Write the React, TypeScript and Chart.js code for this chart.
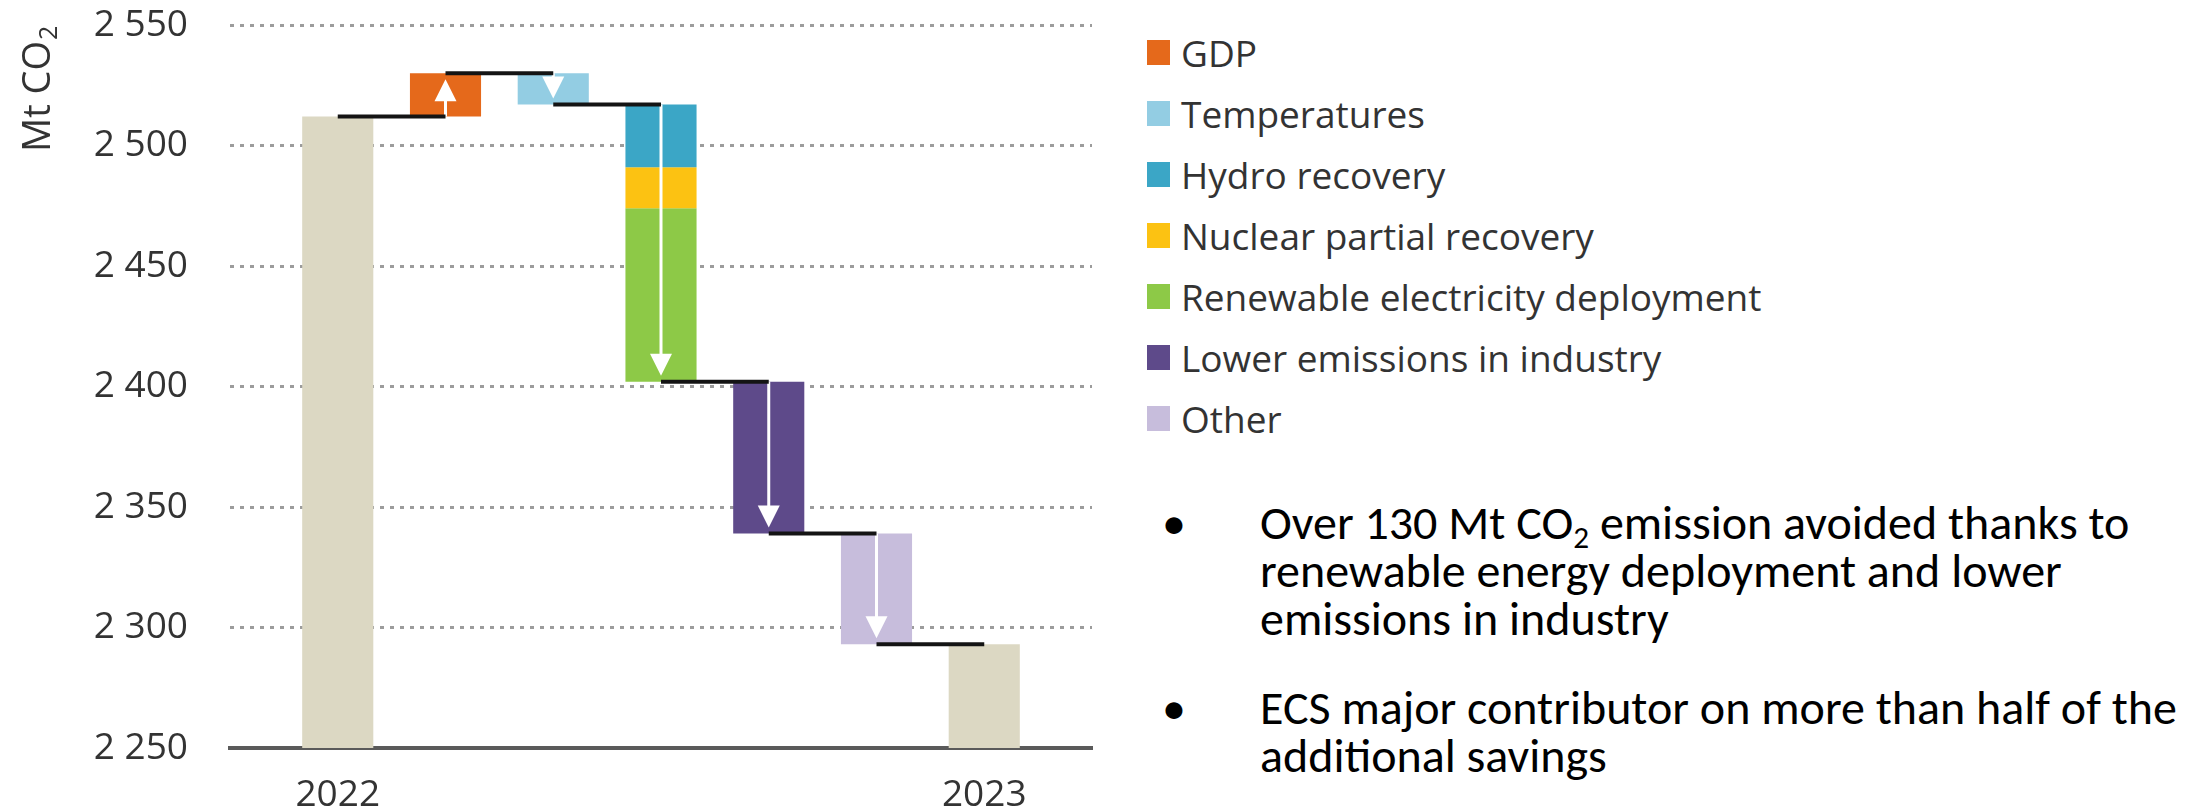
import React, { useEffect, useRef } from 'react';
import { Chart, registerables } from 'chart.js';

Chart.register(...registerables);

// ---------- data ----------
const categories = ['2022', 'GDP', 'Temperatures', 'Power sector', 'Industry', 'Other', '2023'];
const xTickLabels = ['2022', '', '', '', '', '', '2023'];
const totalCategoryIndex = [0, 6];
const totalValues = [2512, 2293];

const seriesNames = [
  'GDP',
  'Temperatures',
  'Hydro recovery',
  'Nuclear partial recovery',
  'Renewable electricity deployment',
  'Lower emissions in industry',
  'Other',
];
const seriesDeltas = [18, -13, -26, -17, -72, -63, -46];
const seriesCategoryIndex = [1, 2, 3, 3, 3, 4, 5];
const seriesColors = ['#E5691B', '#93CDE3', '#3BA6C6', '#FCC212', '#8DC947', '#5E4A8A', '#C7BDDC'];
const totalColor = '#DCD8C3';

const yTickValues = [2250, 2300, 2350, 2400, 2450, 2500, 2550];
const yTickLabels = ['2 250', '2 300', '2 350', '2 400', '2 450', '2 500', '2 550'];
const yTitleMain = 'Mt CO';
const yTitleSub = '2';

const bullets = [
  ['Over 130 Mt CO|2| emission avoided thanks to', 'renewable energy deployment and lower', 'emissions in industry'],
  ['ECS major contributor on more than half of the', 'additional savings'],
];

// ---------- derived ----------
const labels = ['', ...categories, ''];
const yMin = yTickValues[0];
const yMax = yTickValues[yTickValues.length - 1];

const levelAfter: number[] = new Array(categories.length).fill(0);
levelAfter[totalCategoryIndex[0]] = totalValues[0];
const seriesRanges: [number, number][] = [];
{
  let level = totalValues[0];
  seriesDeltas.forEach((d, i) => {
    const next = level + d;
    seriesRanges.push([Math.min(level, next), Math.max(level, next)]);
    level = next;
    levelAfter[seriesCategoryIndex[i]] = level;
  });
  levelAfter[totalCategoryIndex[1]] = totalValues[1];
}

const TEXT = '#333333';
const FONT = "'Open Sans', 'Noto Sans', sans-serif";

const decorPlugin = {
  id: 'waterfallDecor',
  afterDatasetsDraw(chart: any) {
    const { ctx } = chart;
    const xs = chart.scales.x;
    const ys = chart.scales.y;
    const px = (c: number) => xs.getPixelForValue(c + 1);
    ctx.save();
    // arrows
    for (let c = 1; c < categories.length - 1; c++) {
      const from = levelAfter[c - 1];
      const to = levelAfter[c];
      const x = px(c);
      const y0 = ys.getPixelForValue(from);
      const y1 = ys.getPixelForValue(to);
      const dir = y1 > y0 ? 1 : -1;
      const tip = y1 - dir * 6;
      const headLen = 22;
      const headHalf = 11;
      ctx.strokeStyle = '#ffffff';
      ctx.fillStyle = '#ffffff';
      ctx.lineWidth = 3;
      ctx.beginPath();
      ctx.moveTo(x, y0);
      ctx.lineTo(x, tip - dir * headLen + dir * 1);
      ctx.stroke();
      ctx.beginPath();
      ctx.moveTo(x, tip);
      ctx.lineTo(x - headHalf, tip - dir * headLen);
      ctx.lineTo(x + headHalf, tip - dir * headLen);
      ctx.closePath();
      ctx.fill();
    }
    // connectors
    ctx.strokeStyle = '#141414';
    ctx.lineWidth = 4;
    for (let c = 0; c < categories.length - 1; c++) {
      const y = ys.getPixelForValue(levelAfter[c]);
      ctx.beginPath();
      ctx.moveTo(px(c), y);
      ctx.lineTo(px(c + 1), y);
      ctx.stroke();
    }
    ctx.restore();
  },
  afterDraw(chart: any) {
    const { ctx } = chart;
    ctx.save();
    ctx.translate(50, 152);
    ctx.rotate(-Math.PI / 2);
    ctx.fillStyle = TEXT;
    ctx.textAlign = 'left';
    ctx.textBaseline = 'alphabetic';
    ctx.font = `38px ${FONT}`;
    ctx.fillText(yTitleMain, 0, 0);
    const w = ctx.measureText(yTitleMain).width;
    ctx.font = `25px ${FONT}`;
    ctx.fillText(yTitleSub, w + 1, 7);
    ctx.restore();
  },
};

export default function App() {
  const canvasRef = useRef<HTMLCanvasElement | null>(null);

  useEffect(() => {
    if (!canvasRef.current) return;
    const barOpts = { grouped: false, barPercentage: 0.66, categoryPercentage: 1, borderSkipped: false };
    const datasets: any[] = [];
    datasets.push({
      label: 'Total',
      data: labels.map((_, j) => {
        const k = totalCategoryIndex.indexOf(j - 1);
        return k >= 0 ? [yMin, totalValues[k]] : null;
      }),
      backgroundColor: totalColor,
      ...barOpts,
    });
    seriesNames.forEach((name, i) => {
      datasets.push({
        label: name,
        data: labels.map((_, j) => (j === seriesCategoryIndex[i] + 1 ? seriesRanges[i] : null)),
        backgroundColor: seriesColors[i],
        ...barOpts,
      });
    });

    const chart = new Chart(canvasRef.current, {
      type: 'bar',
      data: { labels, datasets },
      options: {
        animation: false,
        responsive: true,
        maintainAspectRatio: false,
        layout: { padding: { top: 25, right: 8, left: 0, bottom: 0 } },
        plugins: { legend: { display: false }, tooltip: { enabled: false } },
        scales: {
          x: {
            type: 'category',
            offset: false,
            grid: { display: true, color: 'transparent', tickColor: 'transparent', drawTicks: true, tickLength: 25 },
            border: { display: true, color: '#5a5a5a', width: 4 },
            ticks: {
              autoSkip: false,
              maxRotation: 0,
              minRotation: 0,
              padding: 0,
              color: TEXT,
              font: { family: FONT, size: 37 },
              callback: (_v: any, idx: number) => (idx >= 1 && idx <= categories.length ? xTickLabels[idx - 1] : ''),
            },
            afterFit: (s: any) => {
              s.height = 59;
            },
          },
          y: {
            min: yMin,
            max: yMax,
            grid: { color: '#9c9c9c', lineWidth: 3, drawTicks: true, tickLength: 42, tickColor: 'transparent' },
            border: { display: false, dash: [4, 6] },
            ticks: {
              stepSize: 50,
              padding: 0,
              color: TEXT,
              font: { family: FONT, size: 37 },
              callback: (v: any) => {
                const k = yTickValues.indexOf(Number(v));
                return k >= 0 ? yTickLabels[k] : '';
              },
            },
            afterFit: (s: any) => {
              s.width = 230;
            },
          },
        },
      },
      plugins: [decorPlugin],
    });
    return () => chart.destroy();
  }, []);

  return (
    <div style={{ position: 'absolute', left: 0, top: 0, width: 2206, height: 807, overflow: 'hidden', background: '#fff' }}>
      <div style={{ position: 'absolute', left: 0, top: 0, width: 1100, height: 807 }}>
        <canvas ref={canvasRef} />
      </div>
      <div style={{ position: 'absolute', left: 1147, top: 21.5, fontFamily: FONT, fontSize: 37, color: TEXT }}>
        {seriesNames.map((n, i) => (
          <div key={n} style={{ height: 61, display: 'flex', alignItems: 'center', whiteSpace: 'nowrap', lineHeight: 1 }}>
            <span style={{ display: 'inline-block', width: 23, height: 25, background: seriesColors[i], marginRight: 11 }} />
            <span>{n}</span>
          </div>
        ))}
      </div>
      {bullets.map((lines, b) => (
        <div
          key={b}
          style={{
            position: 'absolute',
            left: 1260,
            top: b === 0 ? 499 : 684,
            fontFamily: "Carlito, Calibri, 'Liberation Sans Narrow', 'Open Sans', sans-serif",
            fontSize: 48,
            lineHeight: '48px',
            color: '#000',
            whiteSpace: 'nowrap',
          }}
        >
          <span style={{ position: 'absolute', left: -98 }}>•</span>
          {lines.map((ln, i) => {
            const parts = ln.split('|');
            return (
              <div key={i}>
                {parts.map((p, k) =>
                  k % 2 === 1 ? (
                    <span key={k} style={{ fontSize: '0.65em', position: 'relative', top: '0.3em', lineHeight: 0 }}>{p}</span>
                  ) : (
                    <span key={k}>{p}</span>
                  )
                )}
              </div>
            );
          })}
        </div>
      ))}
    </div>
  );
}
